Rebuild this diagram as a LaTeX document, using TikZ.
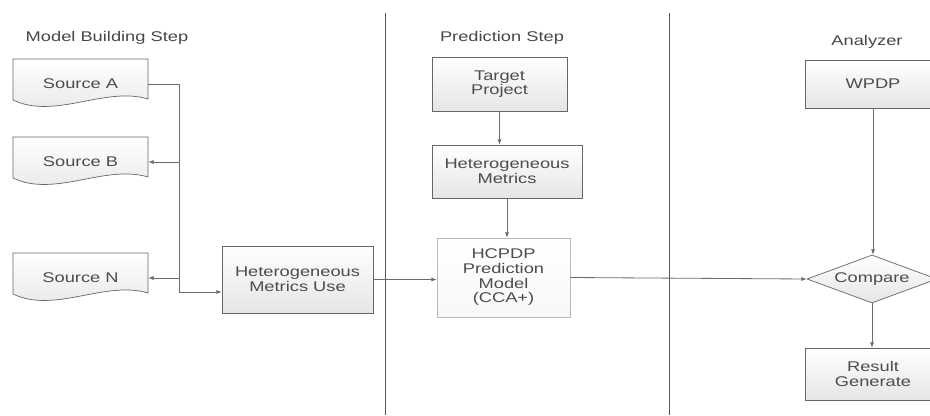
\documentclass[tikz,border=0pt]{standalone}
\usepackage{fontspec}
\setmainfont[FakeStretch=1.3]{Liberation Sans}
\usetikzlibrary{shapes.geometric, arrows.meta, positioning, calc}

\begin{document}
\begin{tikzpicture}[x=0.03cm, y=-0.03cm, font=\fontsize{12}{12.5}\selectfont, text=black!70,
          box/.style={rectangle, draw=gray!80!black, top color=white, bottom color=gray!20, line width=0.6pt, align=center, inner sep=2pt},
          docbox/.style={rectangle, minimum width=4.05cm, minimum height=1.5cm},
          docshape/.style={draw=gray!80!black, top color=white, bottom color=gray!20, line width=0.6pt},
          decision/.style={diamond, draw=gray!80!black, top color=white, bottom color=gray!20, line width=0.6pt, inner sep=0pt, aspect=2.7, minimum width=3.9cm, minimum height=1.44cm},
          steplabel/.style={text=black!72},
          arrow/.style={-{Latex[length=4.5pt,width=3.5pt]}, line width=0.7pt, draw=gray!85!black},
          divider/.style={line width=0.7pt, draw=gray!70!black}]
        \useasboundingbox (0,0) rectangle (930,415);
        \clip (0,0) rectangle (930,415);

        \node [steplabel] (lmb) at (107,38) {Model Building Step};
        \node [steplabel] (lps) at (502,38) {Prediction Step};
        \node [steplabel] (lan) at (867,42) {Analyzer};

        \draw [divider] (385,13) -- (385,415);
        \draw [divider] (669,13) -- (669,415);

        \foreach \name/\y/\txt in {sa/84/Source A, sb/162/Source B, sn/278/Source N} {
          \path [docshape] (13,\y-25) -- (148,\y-25) -- (148,\y+15) .. controls (105,\y+2) and (55,\y+36) .. (13,\y+16) -- cycle;
          \node [docbox] (\name) at (80.5,\y) {\txt};
        }

        \node [box, minimum width=4.53cm, minimum height=2.01cm] (hmu) at (297.5,279.5) {Heterogeneous\\Metrics Use};
        \node [box, minimum width=4.05cm, minimum height=1.62cm] (tp) at (499.5,84) {Target\\Project};
        \node [box, minimum width=4.5cm, minimum height=1.59cm] (hm) at (507,171.5) {Heterogeneous\\Metrics};
        \node [box, draw=gray!55, bottom color=gray!6, minimum width=3.99cm, minimum height=2.37cm] (hc) at (503.5,277.5) {HCPDP\\Prediction\\Model\\(CCA+)};
        \node [box, minimum width=4.08cm, minimum height=1.44cm] (wp) at (873,84) {WPDP};
        \node [decision] (cmp) at (872,279) {Compare};
        \node [box, minimum width=4.08cm, minimum height=1.56cm] (rg) at (873,374) {Result\\Generate};

        \coordinate (j) at (179,292);
        \draw [arrow] (sa.east) -| (j) -- (j -| hmu.west);
        \draw [arrow] (sb.east -| j) -- (sb.east);
        \draw [arrow] (sn.east -| j) -- (sn.east);
        \draw [arrow] (hmu.east) -- (hmu.east -| hc.west);
        \draw [arrow] (tp.south) -- (tp.south |- hm.north);
        \draw [arrow] (hm.south) -- (hm.south |- hc.north);
        \draw [arrow] (hc.east) -- (cmp.west);
        \draw [arrow] (wp.south) -- (wp.south |- cmp.north);
        \draw [arrow] (cmp.south) -- (cmp.south |- rg.north);
      \end{tikzpicture}
\end{document}
